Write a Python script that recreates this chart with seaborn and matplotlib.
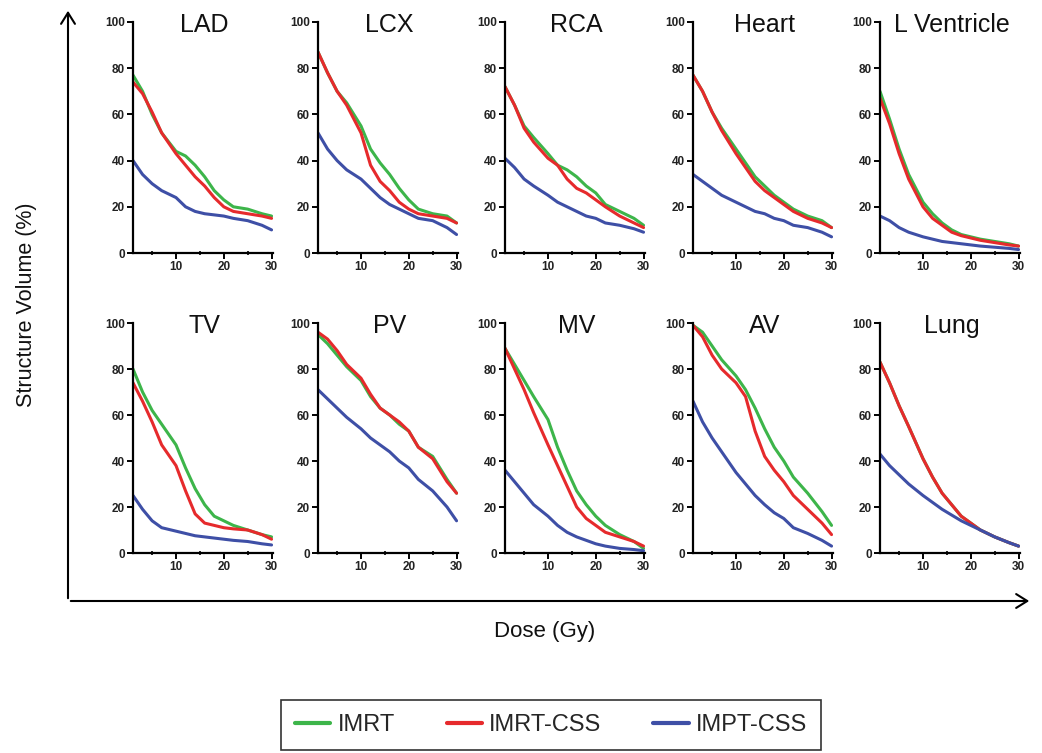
import numpy as np
import pandas as pd
import matplotlib
matplotlib.use("Agg")
import matplotlib.pyplot as plt
from matplotlib.patches import FancyArrowPatch
from matplotlib.lines import Line2D
from matplotlib.ticker import MultipleLocator
import seaborn as sns

# ---------------- data ----------------
dose = [1, 3, 5, 7, 10, 12, 14, 16, 18, 20, 22, 25, 28, 30]
structures = ["LAD", "LCX", "RCA", "Heart", "L Ventricle",
              "TV", "PV", "MV", "AV", "Lung"]
plans = ["IMRT", "IMRT-CSS", "IMPT-CSS"]

imrt = {
    "LAD":         [77, 70, 60, 52, 44, 42, 38, 33, 27, 23, 20, 19, 17, 16],
    "LCX":         [87, 78, 70, 65, 55, 45, 39, 34, 28, 23, 19, 17, 16, 13],
    "RCA":         [72, 64, 55, 50, 43, 38, 36, 33, 29, 26, 21, 18, 15, 12],
    "Heart":       [77, 70, 61, 54, 45, 39, 33, 29, 25, 22, 19, 16, 14, 11],
    "L Ventricle": [70, 58, 45, 34, 22, 17, 13, 10, 8, 7, 6, 5, 4, 3],
    "TV":          [80, 70, 62, 56, 47, 37, 28, 21, 16, 14, 12, 10, 8, 7],
    "PV":          [95, 91, 86, 81, 75, 68, 63, 60, 56, 53, 46, 42, 32, 26],
    "MV":          [89, 82, 75, 68, 58, 46, 36, 27, 21, 16, 12, 8, 5, 2],
    "AV":          [99, 96, 90, 84, 77, 71, 63, 54, 46, 40, 33, 26, 18, 12],
    "Lung":        [83, 74, 64, 55, 41, 33, 26, 21, 16, 13, 10, 7, 4.5, 3],
}
imrt_css = {
    "LAD":         [74, 69, 61, 52, 43, 38, 33, 29, 24, 20, 18, 17, 16, 15],
    "LCX":         [87, 78, 70, 64, 52, 38, 31, 27, 22, 19, 17, 16, 15, 13],
    "RCA":         [72, 64, 54, 48, 41, 38, 32, 28, 26, 23, 20, 16, 13, 11],
    "Heart":       [77, 70, 61, 53, 43, 37, 31, 27, 24, 21, 18, 15, 13, 11],
    "L Ventricle": [67, 56, 43, 32, 20, 15, 12, 9, 7.5, 6.5, 5.5, 4.5, 3.5, 3],
    "TV":          [74, 66, 57, 47, 38, 27, 17, 13, 12, 11, 10.5, 10, 8, 6],
    "PV":          [96, 93, 88, 82, 76, 69, 63, 60, 57, 53, 46, 41, 31, 26],
    "MV":          [89, 80, 71, 61, 47, 38, 29, 20, 15, 12, 9, 7, 5, 3],
    "AV":          [99, 94, 86, 80, 74, 68, 53, 42, 36, 31, 25, 19, 13, 8],
    "Lung":        [83, 74, 64, 55, 41, 33, 26, 21, 16, 13, 10, 7, 4.5, 3],
}
impt_css = {
    "LAD":         [40, 34, 30, 27, 24, 20, 18, 17, 16.5, 16, 15, 14, 12, 10],
    "LCX":         [52, 45, 40, 36, 32, 28, 24, 21, 19, 17, 15, 14, 11, 8],
    "RCA":         [41, 37, 32, 29, 25, 22, 20, 18, 16, 15, 13, 12, 10.5, 9],
    "Heart":       [34, 31, 28, 25, 22, 20, 18, 17, 15, 14, 12, 11, 9, 7],
    "L Ventricle": [16, 14, 11, 9, 7, 6, 5, 4.5, 4, 3.5, 3, 2.5, 2, 1.5],
    "TV":          [25, 19, 14, 11, 9.5, 8.5, 7.5, 7, 6.5, 6, 5.5, 5, 4, 3.5],
    "PV":          [71, 67, 63, 59, 54, 50, 47, 44, 40, 37, 32, 27, 20, 14],
    "MV":          [36, 31, 26, 21, 16, 12, 9, 7, 5.5, 4, 3, 2, 1.5, 1],
    "AV":          [66, 57, 50, 44, 35, 30, 25, 21, 17.5, 15, 11, 8.5, 5.5, 3],
    "Lung":        [43, 38, 34, 30, 25, 22, 19, 16.5, 14, 12, 10, 7, 4.5, 3],
}

y_ticks = [0, 20, 40, 60, 80, 100]
x_ticks = [10, 20, 30]

rows = []
for s in structures:
    for plan, src in zip(plans, [imrt, imrt_css, impt_css]):
        for d, v in zip(dose, src[s]):
            rows.append({"structure": s, "plan": plan, "dose": d, "volume": v})
df = pd.DataFrame(rows)

palette = {"IMRT": "#3db54a", "IMRT-CSS": "#e62a2c", "IMPT-CSS": "#3e4fa6"}

# ---------------- figure ----------------
sns.set_theme(style="ticks")
plt.rcParams["font.family"] = ["Liberation Sans", "DejaVu Sans"]

W, H = 1042, 753
fig = plt.figure(figsize=(W / 100, H / 100), dpi=100)

lefts = [133, 318, 505, 693, 880]
row_tb = [(22, 253), (323, 553)]
pw = 140

for i, s in enumerate(structures):
    r, c = divmod(i, 5)
    top, bot = row_tb[r]
    ax = fig.add_axes([lefts[c] / W, (H - bot) / H, pw / W, (bot - top) / H])
    sub = df[df["structure"] == s]
    sns.lineplot(data=sub, x="dose", y="volume", hue="plan", hue_order=plans,
                 palette=palette, ax=ax, legend=False, linewidth=2.2,
                 estimator=None)
    ax.set_xlim(1, 30.3)
    ax.set_ylim(0, 100)
    ax.set_xticks(x_ticks)
    ax.xaxis.set_minor_locator(MultipleLocator(5))
    ax.set_yticks(y_ticks)
    for sp in ["top", "right"]:
        ax.spines[sp].set_visible(False)
    for sp in ["left", "bottom"]:
        ax.spines[sp].set_linewidth(1.6)
        ax.spines[sp].set_color("black")
    ax.tick_params(axis="both", which="major", direction="out", length=4,
                   width=1.4, color="black", labelsize=8.5, pad=2)
    ax.tick_params(axis="x", which="minor", direction="inout", length=3,
                   width=1.2, color="black")
    for lab in ax.get_xticklabels() + ax.get_yticklabels():
        lab.set_fontweight("bold")
        lab.set_color("#222222")
    ax.set_xlabel("")
    ax.set_ylabel("")
    ax.text(0.51, 0.985, s, transform=ax.transAxes, ha="center", va="center",
            fontsize=18, color="#111111")
    ax.set_facecolor("none")

# ---------------- big arrows ----------------
ox, oy = 68 / W, (H - 601) / H
fig.patches.append(FancyArrowPatch((ox, oy), (ox, (H - 8) / H),
                                   transform=fig.transFigure,
                                   arrowstyle="->,head_length=8,head_width=5",
                                   linewidth=1.5, color="black"))
fig.patches.append(FancyArrowPatch((ox, oy), (1032 / W, oy),
                                   transform=fig.transFigure,
                                   arrowstyle="->,head_length=8,head_width=5",
                                   linewidth=1.5, color="black"))
fig.text(27 / W, (H - 305) / H, "Structure Volume (%)", rotation=90,
         ha="center", va="center", fontsize=15.5, color="#111111")
fig.text(545 / W, (H - 631) / H, "Dose (Gy)", ha="center", va="center",
         fontsize=16, color="#111111")

# ---------------- legend ----------------
handles = [Line2D([0], [0], color=palette[p], linewidth=3) for p in plans]
leg = fig.legend(handles, plans, loc="center",
                 bbox_to_anchor=(551 / W, (H - 725) / H), ncol=3,
                 fontsize=17, frameon=True, fancybox=False,
                 handlelength=1.5, handletextpad=0.3, columnspacing=2.2,
                 borderpad=0.6)
leg.get_frame().set_edgecolor("black")
leg.get_frame().set_linewidth(1.2)

fig.savefig("out.png", dpi=100, facecolor="white")
